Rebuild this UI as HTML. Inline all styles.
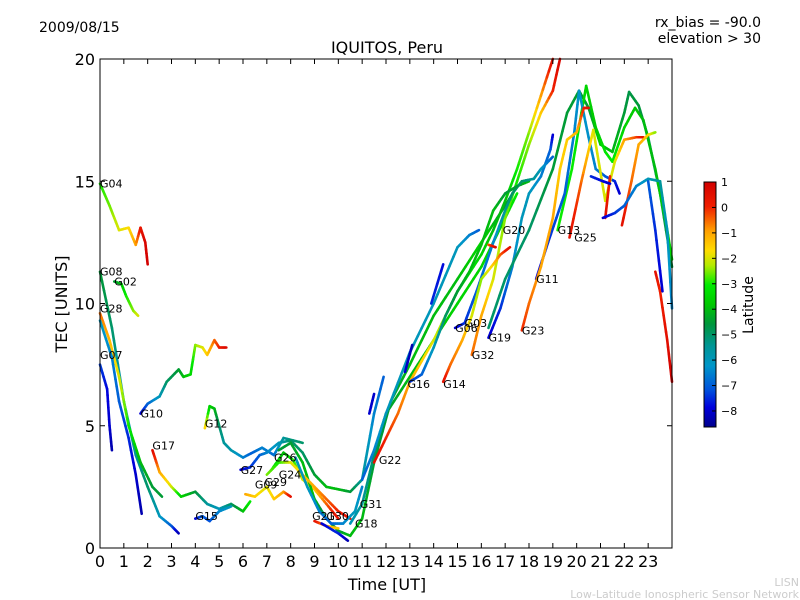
<!DOCTYPE html>
<html><head><meta charset="utf-8"><style>
html,body{margin:0;padding:0;background:#fff;width:800px;height:600px;overflow:hidden}
svg text{font-family:"DejaVu Sans","Liberation Sans",sans-serif}
</style></head><body>
<svg id="chart" width="800" height="600" xmlns="http://www.w3.org/2000/svg">
<rect width="800" height="600" fill="#fff"/>
<text x="39" y="32" font-size="14">2009/08/15</text>
<text x="761" y="27" font-size="14" text-anchor="end">rx_bias = -90.0</text>
<text x="761" y="43" font-size="14" text-anchor="end">elevation &gt; 30</text>
<text x="387" y="53" font-size="16" text-anchor="middle">IQUITOS, Peru</text>
<text x="67" y="304" font-size="16" text-anchor="middle" transform="rotate(-90 67 304)">TEC [UNITS]</text>
<text x="387" y="590" font-size="16" text-anchor="middle">Time [UT]</text>
<text x="753" y="305" font-size="14" text-anchor="middle" transform="rotate(-90 753 305)">Latitude</text>
<text x="799" y="586" font-size="11" fill="#ccc" text-anchor="end">LISN</text>
<text x="799" y="598" font-size="11" fill="#ccc" text-anchor="end">Low-Latitude Ionospheric Sensor Network</text>
<defs><linearGradient id="jet" x1="0" y1="1" x2="0" y2="0">
<stop offset="0" stop-color="rgb(0,0,140)"/><stop offset="0.08" stop-color="rgb(0,0,220)"/><stop offset="0.15" stop-color="rgb(0,80,220)"/>
<stop offset="0.25" stop-color="rgb(0,150,200)"/><stop offset="0.33" stop-color="rgb(0,150,150)"/><stop offset="0.42" stop-color="rgb(0,150,60)"/>
<stop offset="0.5" stop-color="rgb(0,200,0)"/><stop offset="0.58" stop-color="rgb(0,235,0)"/><stop offset="0.66" stop-color="rgb(180,235,0)"/>
<stop offset="0.72" stop-color="rgb(255,220,0)"/><stop offset="0.8" stop-color="rgb(255,160,0)"/><stop offset="0.9" stop-color="rgb(240,30,0)"/><stop offset="1" stop-color="rgb(210,0,0)"/>
</linearGradient></defs>
<g id="plot"></g>
<rect x="704" y="182" width="12" height="245" fill="url(#jet)" stroke="#000" stroke-width="1"/>
<g id="cbar"></g>
</svg>
<script>
const hourTicks=[0,1,2,3,4,5,6,7,8,9,10,11,12,13,14,15,16,17,18,19,20,21,22,23];
const tecTicks=[0,5,10,15,20];
const latTicks=[1,0,-1,-2,-3,-4,-5,-6,-7,-8];
const latMin=-8.63, latMax=1;
// tracks: [time(h), TEC, latitude]
const trkG04=[[0,14.9,-3],[0.4,14,-2.6],[0.8,13,-2],[1.2,13.1,-1.7],[1.5,12.4,-1],[1.7,13.1,0.3],[1.9,12.5,0.8],[2,11.6,1]];
const trkG08=[[0,11.3,-4.5],[0.5,9,-5],[1,6,-6],[1.5,3.8,-5.5],[2,2.5,-5],[2.5,1.3,-6],[3,0.9,-7],[3.3,0.6,-8.3]];
const trkG28=[[0,9.6,-0.5],[0.4,8.5,-1.2],[0.8,7,-2],[1.2,5,-3],[1.7,3.5,-4],[2.2,2.5,-4.5],[2.6,2.1,-4.5]];
const trkG07=[[0,7.5,-7.3],[0.3,6.5,-7.8],[0.4,5,-8],[0.5,4,-8.3]];
const trkBlue1=[[0,9.3,-6],[0.5,7.8,-6.5],[0.8,6,-7],[1.2,4.5,-7.5],[1.5,3,-8],[1.75,1.4,-8.3]];
const trkG02=[[0.6,10.9,-4.5],[0.9,10.8,-4],[1.1,10.3,-3],[1.4,9.7,-2.5],[1.6,9.5,-2]];
const trkG10=[[1.7,5.5,-8],[2,5.9,-7],[2.5,6.2,-6],[2.8,6.8,-5],[3.3,7.3,-4.5],[3.5,7,-4],[3.8,7.1,-3.5],[4,8.3,-2.5],[4.3,8.2,-2],[4.5,7.9,-1.5],[4.8,8.5,-0.5],[5,8.2,0],[5.3,8.2,0.7]];
const trkG12=[[4.4,4.9,-1.5],[4.6,5.8,-3.5],[4.8,5.7,-4],[5,5,-5],[5.2,4.3,-5.5],[5.5,4,-5.7],[6,3.7,-6.5],[6.4,3.9,-7],[6.8,4.1,-6.5],[7.3,3.8,-6.8],[7.7,4.5,-5.5],[8.5,4.3,-5]];
const trkG17=[[2.2,4,0.7],[2.5,3.1,-1],[3,2.5,-2],[3.4,2.1,-3.5],[4,2.3,-4.5],[4.5,1.8,-5.5],[5,1.6,-6],[5.5,1.8,-5],[6,1.5,-4],[6.3,1.9,-3]];
const trkG15=[[4,1.2,-8],[4.3,1.3,-7],[4.6,1.1,-7.2],[5,1.5,-6.5],[5.5,1.7,-6]];
const trkG27=[[5.9,3.2,-8],[6.3,3.3,-7.5],[6.7,3.8,-7],[7,3.9,-6.5],[7.5,4.3,-6],[8,4.4,-5],[8.5,3.9,-5],[9,3,-4.5],[9.5,2.5,-4],[10,2.4,-4],[10.5,2.3,-4.5],[11,2.8,-5.5],[11.5,5.5,-6.5],[11.9,7,-7]];
const trkG24=[[7.2,3.2,-3],[7.7,3.9,-4],[8.1,3.6,-3],[8.5,2.8,-2],[9,2.4,-1.5],[9.5,1.8,-0.5],[10,1.2,0.5]];
const trkG18=[[7.5,4,-4.5],[8,4.3,-4.5],[8.5,3.5,-4],[9,2,-4],[9.5,1.2,-5],[10,0.7,-4.5],[10.5,0.5,-4],[11,1.2,-4],[11.5,3.5,-4.5],[12.2,6,-4.5],[13,7.5,-4],[14,9.5,-4],[15,11,-4],[16,12.5,-3.5],[17,14,-4.5],[17.5,14.8,-4.5],[18,15,-4]];
const trkG26=[[7,3,-2.5],[7.5,3.5,-3],[8,3.5,-2],[8.5,3,-1.5],[9,2.5,-1],[9.5,2,-0.5],[10,1.5,0],[10.5,1.2,0.5]];
const trkG29=[[6.1,2.2,-1],[6.5,2.1,-1.5],[7,2.5,-2],[7.3,2,-1.5],[7.7,2.3,-1],[8,2.1,0.5]];
const trkG30=[[8.2,3.7,-6],[8.7,2.5,-6],[9.2,1.5,-6.5],[9.7,1,-7],[10.2,1,-6.5],[10.7,1.5,-6],[11,2.5,-6.5]];
const trkG21=[[9,1.1,0.5],[9.5,0.9,-1],[10,0.8,-1.5]];
const trkBlue2=[[9.3,1,-8],[10,0.6,-7.5],[10.4,0.3,-8.3]];
const trkG31=[[10.5,1,-6],[11,1.8,-5.5],[11.5,3.8,-5],[12,5.5,-4.5],[13,7,-4],[14,8.5,-4],[15,10,-3.5],[16,11.5,-3.5],[17,13.5,-3.5],[17.5,14.5,-3]];
const trkG22=[[11.5,3.5,0.5],[12,4.5,0],[12.5,5.5,-0.5],[13,6.8,-1],[14,8.5,-2],[15,10.5,-3],[16,12,-3.5],[16.5,13,-4],[17,14.2,-4],[17.5,15.5,-3],[18,17,-2.5],[18.5,18.5,-1],[19,20,0.5]];
const trkG32=[[15.6,7.9,-0.5],[16,9.5,-1],[16.5,11,-2],[17,13.5,-2.5],[17.5,15,-3],[18,16.5,-2.5],[18.5,17.8,-1.5],[19,18.7,0],[19.3,20,0.8]];
const trkG19=[[16.3,8.6,-8],[16.8,9.8,-7.5],[17.3,11.5,-6.5],[17.7,13.5,-6],[18,14.5,-6],[18.5,15.2,-6.5],[18.9,16.3,-7],[19,16.9,-8]];
const trkG03=[[14.9,9,-8],[15.3,9.2,-7.5],[15.8,10.5,-7],[16.5,12.5,-6.5],[17,13.8,-5.5],[17.3,14.5,-5],[17.7,15,-5],[18.2,15.1,-5.5],[18.5,15.5,-6],[19,16,-7]];
const trkG16=[[13,6.8,-7.5],[13.5,7.1,-7],[14,8.2,-6],[14.5,9.5,-5],[15,10.5,-4.5],[15.5,11.3,-4],[16,12.4,-4],[16.5,13.8,-4],[17,14.5,-4.5],[17.5,14.8,-4.5]];
const trkG14=[[14.4,6.8,0.5],[14.7,7.5,-0.5],[15.2,8.5,-1],[15.6,9.5,-2],[16,11,-2.5],[16.5,11.6,-1.5],[16.8,12,-0.5],[17.2,12.3,0.5]];
const trkTeal=[[11,2.8,-7],[11.5,4,-6.5],[12,5.5,-6],[13,8,-6],[14,10,-6],[15,12.3,-6],[15.5,12.8,-6.5],[15.9,13,-7]];
const trkBlue3=[[11.3,5.5,-8],[11.5,6.3,-8]];
const trkBlue4=[[12.8,7.2,-8],[13.1,8.3,-8.3]];
const trkBlue5=[[13.9,10,-7.5],[14.4,11.6,-7.8]];
const trkG20=[[16.3,12.4,-0.5],[16.6,12.3,0.8]];
const trkA=[[16.3,9,-5],[17,11,-5],[18,13,-5],[19,15.5,-4.5],[19.6,17.8,-4.5],[20.1,18.7,-4.5],[20.5,18,-4.5],[21,16.5,-3.8],[21.5,16.2,-4],[22,17.8,-4.5],[22.2,18.65,-4.7],[22.6,18.1,-4.5],[23,16.8,-5],[23.5,14.5,-5],[24,11.5,-4.5]];
const trkG13=[[19.2,13,-3],[19.8,15.5,-3],[20.2,17.8,-3.3],[20.4,18.9,-3.5],[20.8,17.2,-3.8],[21.2,16.2,-3.2],[21.5,15.8,-3],[22,17.2,-3.5],[22.45,18,-3.8],[22.8,17.5,-4],[23.3,15.5,-4],[23.8,13,-3.5],[24,11.8,-3.5]];
const trkG11=[[18.3,11,-8],[18.8,12.5,-7.5],[19.5,14.5,-7],[19.9,17,-6.5],[20.1,18.7,-6.2],[20.5,16.8,-6.3],[20.8,15.5,-6.5],[21.2,15.2,-7],[21.6,15,-7.5],[21.8,14.5,-8]];
const trkG23=[[17.7,8.9,0],[18,10,-0.5],[18.5,11.5,-1],[19,13.5,-1],[19.3,15.5,-1.5],[19.6,16.7,-1.5],[20,17,-1.2],[20.3,18,0],[20.5,18,0.5]];
const trkG25=[[19.7,12.7,0.5],[20.2,15,-0.5],[20.7,17.1,-2],[21.2,14.2,-2],[21.6,15.8,-2],[22,16.7,-1],[22.5,16.8,-0.3],[22.8,16.8,0.5]];
const trkRed1=[[21.2,13.5,0.5],[21.4,15.2,0]];
const trkRed2=[[21.9,13.2,0.5],[22.3,15,-0.5],[22.6,16.5,-1],[23,16.9,-1.5],[23.3,17,-2.5]];
const trkBlue6=[[20.6,15.2,-7.5],[21.1,15,-7.8],[21.4,14.9,-8]];
const trkTeal2=[[21.1,13.5,-8],[21.6,13.7,-7.5],[22,14,-7],[22.5,14.8,-6.5],[23,15.1,-6],[23.5,15,-5.5],[23.8,13,-6],[24,9.8,-6.5]];
const trkRed3=[[23.3,11.3,0.5],[23.5,10.5,0],[23.8,8.5,0.5],[24,6.8,1]];
const trkBlue7=[[23,15,-7],[23.3,13,-7.5],[23.6,10.5,-8]];
const allTracks=[trkG04,trkG08,trkG28,trkG07,trkBlue1,trkG02,trkG10,trkG12,trkG17,trkG15,trkG27,trkG24,trkG18,trkG26,trkG29,trkG30,trkG21,trkBlue2,trkG31,trkG22,trkG32,trkG19,trkG03,trkG16,trkG14,trkTeal,trkBlue3,trkBlue4,trkBlue5,trkG20,trkA,trkG13,trkG11,trkG23,trkG25,trkRed1,trkRed2,trkBlue6,trkTeal2,trkRed3,trkBlue7];
const satNames=["G04","G08","G02","G28","G07","G10","G12","G17","G15","G27","G26","G24","G09","G29","G21","G30","G31","G18","G22","G16","G14","G32","G06","G03","G19","G23","G20","G11","G13","G25"];
const satTimes=[0,0,0.6,0,0,1.7,4.4,2.2,4,5.9,7.3,7.5,6.5,6.9,8.9,9.5,10.9,10.7,11.7,12.9,14.4,15.6,14.9,15.3,16.3,17.7,16.9,18.3,19.2,19.9];
const satTecs=[14.9,11.3,10.9,9.8,7.9,5.5,5.1,4.2,1.3,3.2,3.7,3,2.6,2.7,1.3,1.3,1.8,1,3.6,6.7,6.7,7.9,9,9.2,8.6,8.9,13,11,13,12.7];
const X0=100,X1=672,Y0=548,Y1=59;
const xs=t=>X0+t*(X1-X0)/24, ys=v=>Y0-v*(Y0-Y1)/20;
const cmapPos=[0,0.08,0.15,0.25,0.33,0.42,0.5,0.58,0.66,0.72,0.8,0.9,1];
const cmapCol=[[0,0,140],[0,0,220],[0,80,220],[0,150,200],[0,150,150],[0,150,60],[0,200,0],[0,235,0],[180,235,0],[255,220,0],[255,160,0],[240,30,0],[210,0,0]];
function jet(l){let t=(l-latMin)/(latMax-latMin);t=Math.max(0,Math.min(1,t));
  let i=0;while(i<cmapPos.length-2&&t>cmapPos[i+1])i++;
  const f=(t-cmapPos[i])/(cmapPos[i+1]-cmapPos[i]);const a=cmapCol[i],b=cmapCol[i+1];
  return `rgb(${Math.round(a[0]+(b[0]-a[0])*f)},${Math.round(a[1]+(b[1]-a[1])*f)},${Math.round(a[2]+(b[2]-a[2])*f)})`;}
const NS="http://www.w3.org/2000/svg";
const plot=document.getElementById('plot');
function mk(tag,attrs,parent){const e=document.createElementNS(NS,tag);for(const k in attrs)e.setAttribute(k,attrs[k]);parent.appendChild(e);return e;}
allTracks.forEach((tr,i)=>{
  const g=mk('g',{},plot);
  
  
  for(let j=0;j<tr.length-1;j++){
    const a=tr[j],b=tr[j+1],n=6;
    for(let k=0;k<n;k++){
      const f0=k/n,f1=(k+1)/n;
      const ln=mk('line',{x1:xs(a[0]+(b[0]-a[0])*f0),y1:ys(a[1]+(b[1]-a[1])*f0),x2:xs(a[0]+(b[0]-a[0])*f1),y2:ys(a[1]+(b[1]-a[1])*f1),stroke:jet(a[2]+(b[2]-a[2])*(f0+f1)/2),'stroke-width':2.6,'stroke-linecap':'round'},g);
      
      
    }
  }
});
satNames.forEach((s,i)=>{
  const t=mk('text',{x:xs(satTimes[i]),y:ys(satTecs[i])+4,'font-size':11},plot);
  t.textContent=s;
  
  
});
const fr=mk('rect',{x:X0,y:Y1,width:X1-X0,height:Y0-Y1,fill:'none',stroke:'#000','stroke-width':1},plot);


hourTicks.forEach(h=>{
  const x=xs(h);
  mk('line',{x1:x,y1:Y0,x2:x,y2:Y0-5,stroke:'#000'},plot);
  mk('line',{x1:x,y1:Y1,x2:x,y2:Y1+5,stroke:'#000'},plot);
  const t=mk('text',{x:x,y:567,'font-size':16,'text-anchor':'middle'},plot);
  t.textContent=h;
  
  
});
tecTicks.forEach(v=>{
  const y=ys(v);
  mk('line',{x1:X0,y1:y,x2:X0+5,y2:y,stroke:'#000'},plot);
  mk('line',{x1:X1,y1:y,x2:X1-5,y2:y,stroke:'#000'},plot);
  const t=mk('text',{x:95,y:y+6,'font-size':16,'text-anchor':'end'},plot);
  t.textContent=v;
  
  
});
const cb=document.getElementById('cbar');
latTicks.forEach(l=>{
  const y=182+(latMax-l)*245/(latMax-latMin);
  mk('line',{x1:712,y1:y,x2:716,y2:y,stroke:'#000'},cb);
  const t=mk('text',{x:721,y:y+4,'font-size':11},cb);
  t.textContent=l<0?'\u2212'+(-l):l;
  
  
});
</script>
</body></html>
